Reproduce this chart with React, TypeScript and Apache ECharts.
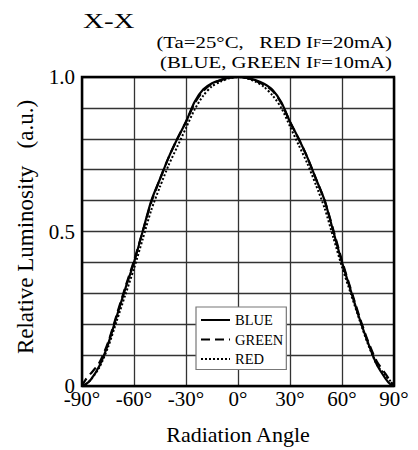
import React, { useEffect, useRef } from "react";
import * as echarts from "echarts";

const angles = [-90, -88, -85, -80, -75, -70, -65, -60, -55, -50, -45, -40, -35, -30, -25, -20, -15, -10, -5, 0, 5, 10, 15, 20, 25, 30, 35, 40, 45, 50, 55, 60, 65, 70, 75, 80, 85, 88, 90];
const blue = [0, 0.005, 0.02, 0.065, 0.135, 0.225, 0.315, 0.4, 0.5, 0.6, 0.67, 0.74, 0.8, 0.855, 0.92, 0.96, 0.98, 0.99, 0.998, 1.0, 0.998, 0.99, 0.978, 0.958, 0.918, 0.855, 0.8, 0.74, 0.67, 0.6, 0.5, 0.4, 0.31, 0.22, 0.14, 0.07, 0.025, 0.005, 0];
const green = [0, 0.02, 0.04, 0.075, 0.14, 0.23, 0.32, 0.405, 0.5, 0.595, 0.67, 0.74, 0.8, 0.855, 0.915, 0.955, 0.978, 0.99, 0.998, 1.0, 0.997, 0.988, 0.975, 0.955, 0.915, 0.855, 0.8, 0.74, 0.67, 0.6, 0.505, 0.405, 0.315, 0.225, 0.145, 0.08, 0.04, 0.015, 0];
const red = [0, 0.005, 0.02, 0.06, 0.125, 0.21, 0.295, 0.38, 0.475, 0.57, 0.645, 0.715, 0.775, 0.835, 0.895, 0.94, 0.97, 0.985, 0.996, 1.0, 0.996, 0.985, 0.968, 0.94, 0.9, 0.84, 0.78, 0.72, 0.65, 0.575, 0.48, 0.385, 0.3, 0.215, 0.135, 0.07, 0.035, 0.015, 0];
const yLabels: Record<string, string> = { "0": "0", "0.5": "0.5", "1": "1.0" };
const titleText = "X-X";
const condLine1 = "(Ta=25°C,   RED I{s|F}=20mA)";
const condLine2 = "(BLUE, GREEN I{s|F}=10mA)";

const FONT = "Liberation Serif";

export default function App() {
  const ref = useRef<HTMLDivElement>(null);
  useEffect(() => {
    if (!ref.current) return;
    const chart = echarts.init(ref.current, undefined, { renderer: "svg" });
    const pair = (vals: number[]) => angles.map((a, i) => [a, vals[i]]);
    const rich = { s: { fontFamily: FONT, fontSize: 11.5, fill: "#000", verticalAlign: "bottom", padding: [0, 0, 1, 0] } };
    chart.setOption({
      animation: false,
      backgroundColor: "#fff",
      textStyle: { fontFamily: FONT, color: "#000" },
      graphic: [
        {
          type: "text",
          x: 83,
          y: 21,
          scaleX: 1.38,
          style: { text: titleText, font: `21px "${FONT}"`, fill: "#000", align: "left", verticalAlign: "middle" },
        },
        {
          type: "text",
          x: 392,
          y: 42.5,
          scaleX: 1.3,
          style: { text: condLine1, fontFamily: FONT, fontSize: 16, fill: "#000", align: "right", verticalAlign: "middle", rich },
        },
        {
          type: "text",
          x: 392,
          y: 62.5,
          scaleX: 1.3,
          style: { text: condLine2, fontFamily: FONT, fontSize: 16, fill: "#000", align: "right", verticalAlign: "middle", rich },
        },
      ],
      grid: {
        left: 82,
        right: 24,
        top: 77,
        bottom: 64,
        show: true,
        borderColor: "#000",
        borderWidth: 2.5,
        backgroundColor: "transparent",
        z: 3,
      },
      legend: {
        orient: "vertical",
        left: 196,
        top: 307,
        itemWidth: 29,
        itemHeight: 12,
        itemGap: 4.5,
        padding: [5.5, 3, 3, 4],
        backgroundColor: "#fff",
        borderColor: "#777",
        borderWidth: 1.2,
        borderRadius: 0,
        selectedMode: false,
        itemStyle: { opacity: 0 },
        textStyle: { fontFamily: FONT, fontSize: 14.5, color: "#000" },
        data: ["BLUE", "GREEN", "RED"],
      },
      xAxis: {
        type: "value",
        min: -90,
        max: 90,
        interval: 30,
        name: "Radiation Angle",
        nameLocation: "middle",
        nameGap: 37,
        nameTextStyle: { fontFamily: FONT, fontSize: 22, color: "#000" },
        axisLine: { show: false },
        axisTick: { show: false },
        axisLabel: {
          fontFamily: FONT,
          fontSize: 21,
          color: "#000",
          margin: 2,
          formatter: (v: number) => `${v}°`,
        },
        splitLine: { show: true, lineStyle: { color: "#333", width: 1.3 } },
      },
      yAxis: {
        type: "value",
        min: 0,
        max: 1,
        interval: 0.1,
        name: "Relative Luminosity   (a.u.)",
        nameLocation: "middle",
        nameGap: 45,
        nameTextStyle: { fontFamily: FONT, fontSize: 23, color: "#000", padding: [0, 0, 0, 9] },
        axisLine: { show: false },
        axisTick: { show: false },
        axisLabel: {
          fontFamily: FONT,
          fontSize: 21,
          color: "#000",
          margin: 7,
          formatter: (v: number) => {
            const k = String(Math.round(v * 10) / 10);
            return yLabels[k] ?? "";
          },
        },
        splitLine: { show: true, lineStyle: { color: "#333", width: 1.3 } },
      },
      series: [
        {
          name: "BLUE",
          type: "line",
          data: pair(blue),
          symbol: "none",
          smooth: 0.25,
          lineStyle: { color: "#000", width: 2.2, type: "solid" },
          itemStyle: { color: "#000" },
          z: 4,
        },
        {
          name: "GREEN",
          type: "line",
          data: pair(green),
          symbol: "none",
          smooth: 0.25,
          lineStyle: { color: "#000", width: 2.2, type: [9, 5] },
          itemStyle: { color: "#000" },
          z: 4,
        },
        {
          name: "RED",
          type: "line",
          data: pair(red),
          symbol: "none",
          smooth: 0.25,
          lineStyle: { color: "#000", width: 2, type: [2, 2] },
          itemStyle: { color: "#000" },
          z: 4,
        },
      ],
    });
    return () => chart.dispose();
  }, []);
  return <div ref={ref} style={{ position: "fixed", left: 0, top: 0, width: 418, height: 450 }} />;
}
